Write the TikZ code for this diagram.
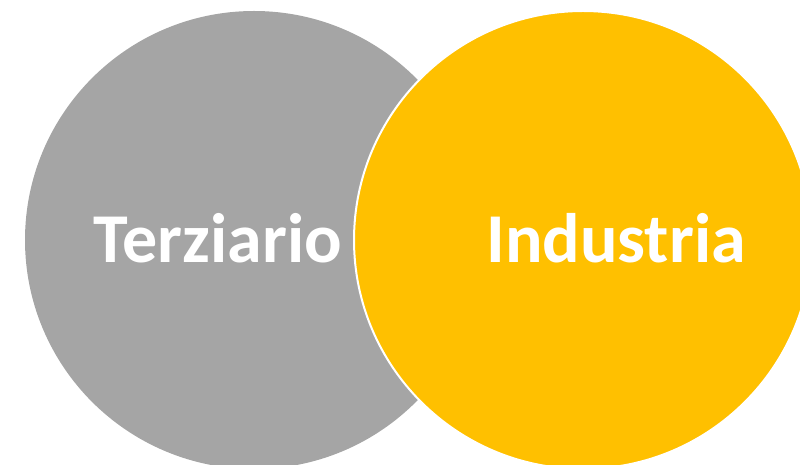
\documentclass[tikz,border=0pt]{standalone}
\usepackage{fontspec}
\setmainfont{Carlito}
\usetikzlibrary{positioning}
\definecolor{grigio}{HTML}{A5A5A5}
\definecolor{giallo}{HTML}{FFC000}
\tikzstyle{cerchio} = [circle, minimum size=458pt, inner sep=0pt]
\tikzstyle{etichetta} = [text=white, font=\bfseries\fontsize{70}{76}\selectfont]

\begin{document}
\begin{tikzpicture}[x=1pt,y=1pt]
	\useasboundingbox (0,0) rectangle (800,465);
	\clip (0,0) rectangle (800,465);
	\node [cerchio, fill=grigio] (terz) at (254, 225) {};
	\node [cerchio, fill=giallo, draw=white, line width=2pt] (ind) at (583, 225) {};
	\node [etichetta] (lterz) at (218, 227) {Terziario};
	\node [etichetta] (lind) at (616, 227) {Industria};
\end{tikzpicture}
\end{document}
